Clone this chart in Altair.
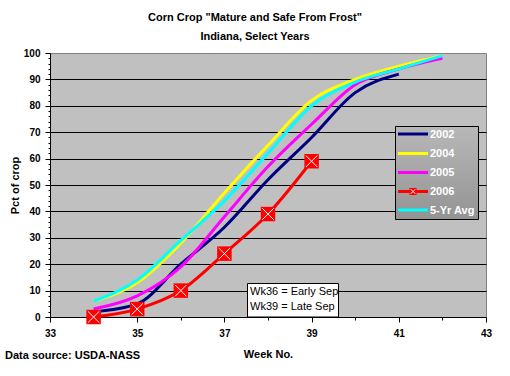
import altair as alt
import pandas as pd

# ---- data ----
series_names = ["2002", "2004", "2005", "2006", "5-Yr Avg"]
series_colors = ["#000080", "#FFFF00", "#FF00FF", "#FF0000", "#00FFFF"]

weeks_2002 = [34, 35, 36, 37, 38, 39, 40, 41]
pct_2002 = [2, 5, 20, 34, 52, 68, 85, 92]

weeks_2004 = [34, 35, 36, 37, 38, 39, 40, 41, 42]
pct_2004 = [6, 13, 28, 47, 65, 82, 90, 95, 99]

weeks_2005 = [34, 35, 36, 37, 38, 39, 40, 41, 42]
pct_2005 = [3, 8, 19, 38, 57, 73, 88, 94, 98]

weeks_2006 = [34, 35, 36, 37, 38, 39]
pct_2006 = [0, 3, 10, 24, 39, 59]

weeks_avg = [34, 35, 36, 37, 38, 39, 40, 41, 42]
pct_avg = [6, 14, 29, 44, 62, 80, 89, 94, 99]

x_ticks = list(range(33, 44))
y_ticks = list(range(0, 101, 2))

note_lines = ["Wk36 = Early Sep", "Wk39 = Late Sep"]

rows = []
for name, wk, pc in [("2002", weeks_2002, pct_2002), ("2004", weeks_2004, pct_2004),
                     ("2005", weeks_2005, pct_2005), ("2006", weeks_2006, pct_2006),
                     ("5-Yr Avg", weeks_avg, pct_avg)]:
    for w, p in zip(wk, pc):
        rows.append({"series": name, "week": w, "pct": p})
df = pd.DataFrame(rows)
df2006 = df[df.series == "2006"]

FONT = "Liberation Sans"
W, H = 436, 264

xscale = alt.Scale(domain=[33, 43], nice=False, zero=False)
yscale = alt.Scale(domain=[0, 100], nice=False)
cscale = alt.Scale(domain=series_names, range=series_colors)

xaxis = alt.Axis(
    values=x_ticks, tickCount=100, format="d",
    labelExpr="datum.value % 2 === 1 ? datum.label : ''",
    tickSize={"condition": {"test": "datum.value % 2 === 1", "value": 5}, "value": 3},
    grid=False, title="Week No.", titlePadding=10, labelPadding=6,
    labelFlush=False, labelOverlap=False,
)
yaxis = alt.Axis(
    values=y_ticks, tickCount=200, format="d",
    labelExpr="datum.value % 10 === 0 ? datum.label : ''",
    tickSize={"condition": {"test": "datum.value % 10 === 0", "value": 5}, "value": 2},
    grid=True,
    gridOpacity={"condition": {"test": "datum.value % 10 === 0 && datum.value > 0 && datum.value < 100", "value": 1}, "value": 0},
    gridColor="#000000", gridWidth=1,
    title="Pct of crop", titlePadding=3, labelPadding=5,
    labelFlush=False, labelOverlap=False,
)

lines = alt.Chart(df).mark_line(strokeWidth=3, interpolate="monotone").encode(
    x=alt.X("week:Q", scale=xscale, axis=xaxis),
    y=alt.Y("pct:Q", scale=yscale, axis=yaxis),
    color=alt.Color("series:N", scale=cscale, legend=None),
    detail="series:N",
    order=alt.Order("week:Q"),
)

squares = alt.Chart(df2006).mark_point(shape="square", filled=True, size=210, color="#FF0000", opacity=1).encode(
    x=alt.X("week:Q", scale=xscale), y=alt.Y("pct:Q", scale=yscale)
)
crosses = alt.Chart(df2006).mark_point(shape="M-1,-1L1,1M-1,1L1,-1", filled=False, size=130,
                                        stroke="#FFFFFF", strokeWidth=1, opacity=1).encode(
    x=alt.X("week:Q", scale=xscale), y=alt.Y("pct:Q", scale=yscale)
)

one = pd.DataFrame({"a": [0]})


def txt(text, x, y, size=11, weight="bold", align="center", color="#000000", baseline="middle"):
    kw = dict(text=text, fontSize=size, fontWeight=weight, align=align, color=color, baseline=baseline, font=FONT)
    return alt.Chart(one).mark_text(**kw).encode(x=alt.value(x), y=alt.value(y))


layers = [lines, squares, crosses]

# legend box
layers.append(alt.Chart(one).mark_rect(
    color=alt.LinearGradient(gradient="linear", x1=0, y1=0, x2=0, y2=1,
                             stops=[alt.GradientStop(color="#B8B8B8", offset=0),
                                    alt.GradientStop(color="#939393", offset=1)]),
    stroke="#000000", strokeWidth=1).encode(
    x=alt.value(345.5), x2=alt.value(428.5), y=alt.value(73.5), y2=alt.value(166.5)))

entry_y = [81, 100.5, 119.5, 138.5, 157]
for name, col, yy in zip(series_names, series_colors, entry_y):
    layers.append(alt.Chart(one).mark_rule(color=col, strokeWidth=3).encode(
        x=alt.value(348), x2=alt.value(378), y=alt.value(yy)))
    if name == "2006":
        layers.append(alt.Chart(one).mark_point(shape="square", filled=True, size=50, color="#FF0000", opacity=1)
                      .encode(x=alt.value(363), y=alt.value(yy)))
        layers.append(alt.Chart(one).mark_point(shape="M-1,-1L1,1M-1,1L1,-1", filled=False, size=20,
                                                stroke="#FFFFFF", strokeWidth=1, opacity=1)
                      .encode(x=alt.value(363), y=alt.value(yy)))
    layers.append(txt(name, 380, yy + 0.5, size=11, align="left", color="#FFFFFF"))

# note box
layers.append(alt.Chart(one).mark_rect(color="#FFFFFF", stroke="#000000", strokeWidth=1).encode(
    x=alt.value(197.5), x2=alt.value(288.5), y=alt.value(230.5), y2=alt.value(264)))
layers.append(txt(note_lines[0], 200, 239, size=11, weight="normal", align="left"))
layers.append(txt(note_lines[1], 200, 254, size=11, weight="normal", align="left"))

# titles
layers.append(txt('Corn Crop "Mature and Safe From Frost"', 205, -35))
layers.append(txt("Indiana, Select Years", 205, -16))
layers.append(txt("Data source: USDA-NASS", -45, 303, align="left"))

chart = alt.layer(*layers).properties(
    width=W, height=H,
    autosize=alt.AutoSizeParams(type="none"),
    padding={"left": 50, "top": 53, "right": 24, "bottom": 59},
    background="#FFFFFF",
).configure_view(
    fill="#C0C0C0", stroke="#808080", strokeWidth=1
).configure_axis(
    domainColor="#000000", domainWidth=1, tickColor="#000000", tickWidth=1,
    labelFont=FONT, labelFontSize=10, labelFontWeight="bold", labelColor="#000000",
    titleFont=FONT, titleFontSize=11, titleFontWeight="bold", titleColor="#000000",
)

chart.save("out.html", embed_options={"renderer": "svg", "actions": False})
